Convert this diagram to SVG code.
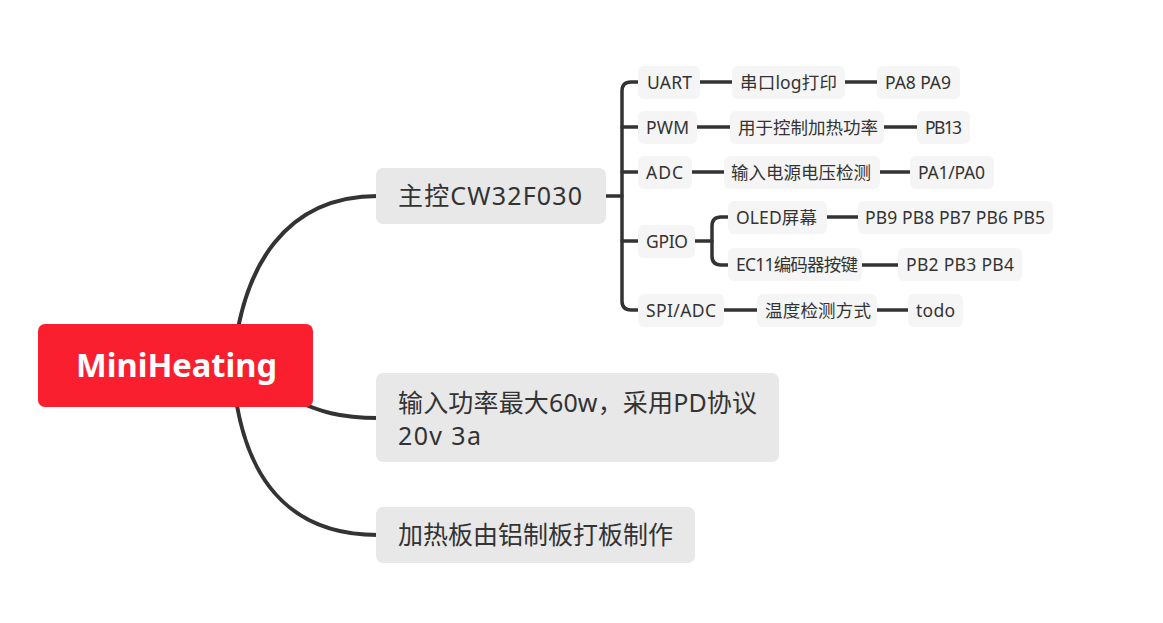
<svg xmlns="http://www.w3.org/2000/svg" width="1163" height="623" viewBox="0 0 1163 623">
<style>
.c{fill:none;stroke:#333;stroke-linecap:round}
.m{stroke-width:4}
.s{stroke-width:3.5}
.main{fill:#E8E8E8}
.sub{fill:#F5F5F5}
.t{font-family:"Noto Sans","Noto Sans CJK SC",sans-serif;fill:#333}
.t24{font-size:25px}
.t16{font-size:17.5px}
</style>
<rect width="1163" height="623" fill="#fff"/>
<g id="connectors">
<path class="c m" d="M232 380 C238 260 290 196 378 196"/>
<path class="c m" d="M290 398 C320 412 340 418 378 418"/>
<path class="c m" d="M232 360 C238 480 290 535 378 535"/>
<path class="c s" d="M606 196 L622 196"/>
<path class="c s" d="M638 82 L631 82 Q622 82 622 91 L622 301 Q622 310 631 310 L638 310"/>
<path class="c s" d="M622 127 L638 127 M622 172 L638 172 M622 241 L638 241"/>
<path class="c s" d="M695 241 L712 241"/>
<path class="c s" d="M728 217 L721 217 Q712 217 712 226 L712 256 Q712 265 721 265 L728 265"/>
<path class="c s" d="M700 82 L732 82 M845 82 L877 82"/>
<path class="c s" d="M697 127 L730 127 M884 127 L917 127"/>
<path class="c s" d="M692 172 L724 172 M880 172 L910 172"/>
<path class="c s" d="M827 217 L858 217"/>
<path class="c s" d="M862 265 L898 265"/>
<path class="c s" d="M724 310 L757 310 M877 310 L908 310"/>
</g>
<g id="root">
<rect x="38" y="324" width="275" height="83" rx="7" fill="#F91F2F"/>
<text x="76" y="377" textLength="201" lengthAdjust="spacingAndGlyphs" font-family="Noto Sans, sans-serif" font-weight="bold" font-size="32" fill="#fff">MiniHeating</text>
</g>
<g id="n-main">
<rect class="main" x="376" y="168" width="230" height="56" rx="7"/>
<text class="t t24" x="398" y="205" textLength="184">主控CW32F030</text>
</g>
<g id="n-power">
<rect class="main" x="376" y="373" width="403" height="89" rx="7"/>
<text class="t t24" x="398" y="412" textLength="359">输入功率最大60w，采用PD协议</text>
<text class="t t24" x="398" y="445" textLength="83">20v 3a</text>
</g>
<g id="n-board">
<rect class="main" x="376" y="507" width="319" height="56" rx="7"/>
<text class="t t24" x="398" y="544" textLength="275">加热板由铝制板打板制作</text>
</g>
<g id="n-uart"><rect class="sub" x="638" y="66" width="62" height="33" rx="6"/><text class="t t16" x="647" y="88.5" textLength="45">UART</text></g>
<g id="n-pwm"><rect class="sub" x="638" y="111" width="59" height="33" rx="6"/><text class="t t16" x="646" y="133.5" textLength="43">PWM</text></g>
<g id="n-adc"><rect class="sub" x="638" y="156" width="54" height="33" rx="6"/><text class="t t16" x="646" y="178.5" textLength="37">ADC</text></g>
<g id="n-gpio"><rect class="sub" x="638" y="225" width="57" height="33" rx="6"/><text class="t t16" x="646" y="247.5" textLength="42">GPIO</text></g>
<g id="n-spi"><rect class="sub" x="638" y="294" width="86" height="33" rx="6"/><text class="t t16" x="646" y="316.5" textLength="70">SPI/ADC</text></g>
<g id="n-log"><rect class="sub" x="732" y="66" width="113" height="33" rx="6"/><text class="t t16" x="740" y="88.5" textLength="97">串口log打印</text></g>
<g id="n-pwmdesc"><rect class="sub" x="730" y="111" width="154" height="33" rx="6"/><text class="t t16" x="738" y="133.5" textLength="140">用于控制加热功率</text></g>
<g id="n-adcdesc"><rect class="sub" x="724" y="156" width="156" height="33" rx="6"/><text class="t t16" x="731" y="178.5" textLength="140">输入电源电压检测</text></g>
<g id="n-oled"><rect class="sub" x="728" y="201" width="99" height="33" rx="6"/><text class="t t16" x="736" y="223.5" textLength="81">OLED屏幕</text></g>
<g id="n-ec11"><rect class="sub" x="728" y="248" width="134" height="33" rx="6"/><text class="t t16" x="736" y="270.5" textLength="122">EC11编码器按键</text></g>
<g id="n-temp"><rect class="sub" x="757" y="294" width="120" height="33" rx="6"/><text class="t t16" x="765" y="316.5" textLength="106">温度检测方式</text></g>
<g id="n-pa8"><rect class="sub" x="877" y="66" width="83" height="33" rx="6"/><text class="t t16" x="885" y="88.5" textLength="66">PA8 PA9</text></g>
<g id="n-pb13"><rect class="sub" x="917" y="111" width="53" height="33" rx="6"/><text class="t t16" x="925" y="133.5" textLength="37">PB13</text></g>
<g id="n-pa1"><rect class="sub" x="910" y="156" width="84" height="33" rx="6"/><text class="t t16" x="918" y="178.5" textLength="67">PA1/PA0</text></g>
<g id="n-pb9"><rect class="sub" x="858" y="201" width="195" height="33" rx="6"/><text class="t t16" x="865" y="223.5" textLength="180">PB9 PB8 PB7 PB6 PB5</text></g>
<g id="n-pb2"><rect class="sub" x="898" y="248" width="124" height="33" rx="6"/><text class="t t16" x="906" y="270.5" textLength="108">PB2 PB3 PB4</text></g>
<g id="n-todo"><rect class="sub" x="908" y="294" width="55" height="33" rx="6"/><text class="t t16" x="916" y="316.5" textLength="39">todo</text></g>
</svg>
